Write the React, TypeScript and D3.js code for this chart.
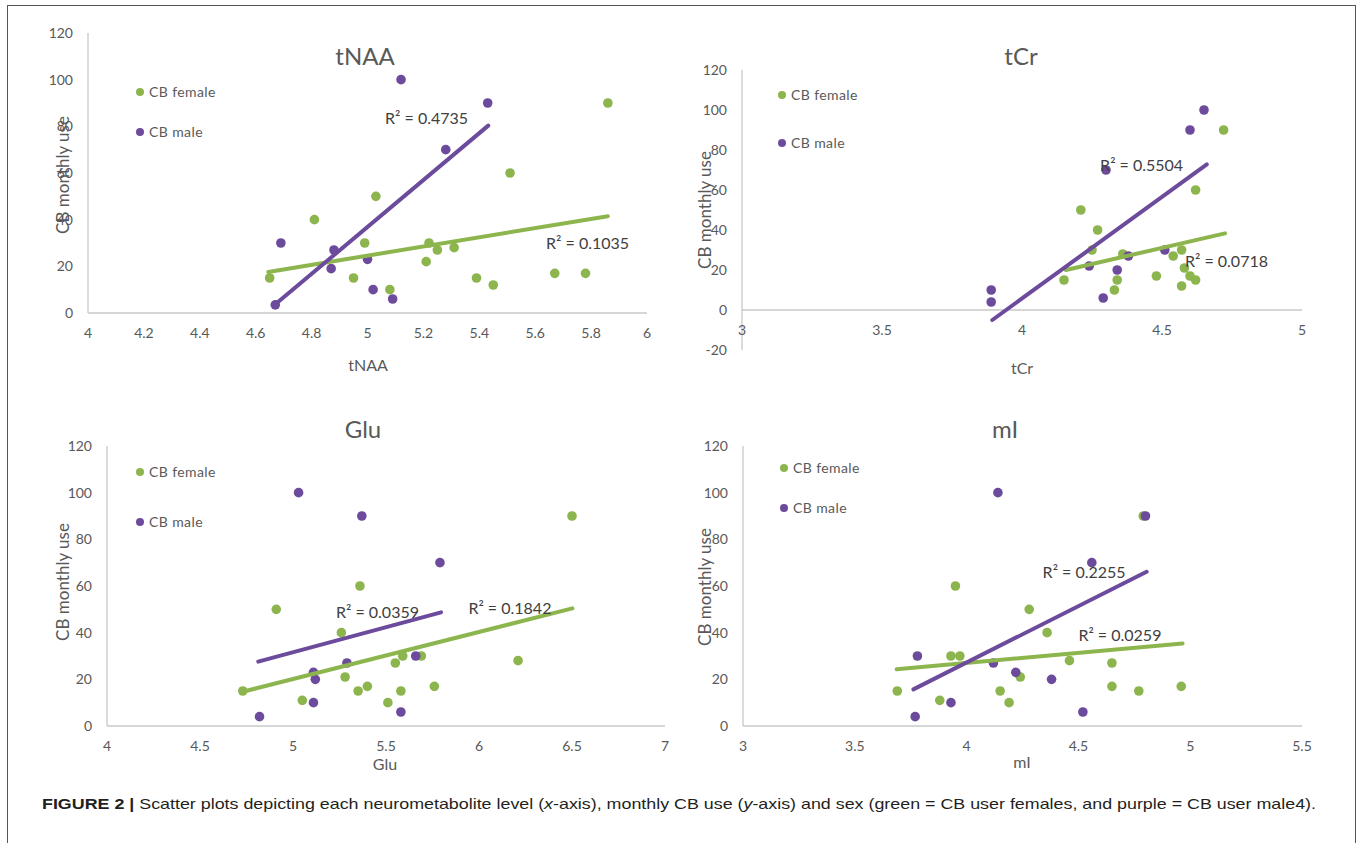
import React from 'react'
import * as d3 from 'd3'

// values: [metabolite level, CB monthly use]
const tnaaFemale = [[4.65, 15], [4.81, 40], [4.95, 15], [4.99, 30], [5.03, 50], [5.08, 10], [5.21, 22], [5.22, 30], [5.25, 27], [5.31, 28], [5.39, 15], [5.45, 12], [5.51, 60], [5.67, 17], [5.78, 17], [5.86, 90]]
const tnaaMale = [[4.67, 3.5], [4.69, 30], [4.87, 19], [4.88, 27], [5.0, 23], [5.02, 10], [5.09, 6], [5.12, 100], [5.28, 70], [5.43, 90]]
const tnaaFemaleFit = [[4.645, 17.6], [5.86, 41.5]]
const tnaaMaleFit = [[4.667, 3.4], [5.432, 80.3]]

const tcrFemale = [[4.15, 15], [4.21, 50], [4.27, 40], [4.25, 30], [4.36, 28], [4.34, 15], [4.33, 10], [4.48, 17], [4.54, 27], [4.57, 30], [4.58, 21], [4.57, 12], [4.6, 17], [4.62, 15], [4.62, 60], [4.72, 90]]
const tcrMale = [[3.89, 10], [3.89, 4], [4.3, 70], [4.24, 22], [4.34, 20], [4.29, 6], [4.38, 27], [4.51, 30], [4.6, 90], [4.65, 100]]
const tcrFemaleFit = [[4.157, 20], [4.725, 38.3]]
const tcrMaleFit = [[3.894, -5], [4.66, 72.8]]

const gluFemale = [[4.73, 15], [4.91, 50], [5.05, 11], [5.26, 40], [5.28, 21], [5.35, 15], [5.4, 17], [5.36, 60], [5.51, 10], [5.55, 27], [5.58, 15], [5.59, 30], [5.69, 30], [5.76, 17], [6.21, 28], [6.5, 90]]
const gluMale = [[5.03, 100], [5.37, 90], [5.11, 23], [5.12, 20], [5.11, 10], [5.29, 27], [4.82, 4], [5.79, 70], [5.66, 30], [5.58, 6]]
const gluFemaleFit = [[4.73, 14.7], [6.502, 50.4]]
const gluMaleFit = [[4.813, 27.6], [5.796, 48.7]]

const miFemale = [[3.69, 15], [3.88, 11], [3.93, 30], [3.97, 30], [3.95, 60], [4.15, 15], [4.19, 10], [4.24, 21], [4.28, 50], [4.36, 40], [4.46, 28], [4.65, 27], [4.65, 17], [4.77, 15], [4.79, 90], [4.96, 17]]
const miMale = [[3.78, 30], [3.77, 4], [3.93, 10], [4.12, 27], [4.14, 100], [4.22, 23], [4.38, 20], [4.52, 6], [4.56, 70], [4.8, 90]]
const miFemaleFit = [[3.687, 24.3], [4.966, 35.4]]
const miMaleFit = [[3.762, 15.7], [4.805, 66.1]]

const titles = ['tNAA', 'tCr', 'Glu', 'mI']
const xTicksTnaa = [4, 4.2, 4.4, 4.6, 4.8, 5, 5.2, 5.4, 5.6, 5.8, 6]
const xTicksTcr = [3, 3.5, 4, 4.5, 5]
const xTicksGlu = [4, 4.5, 5, 5.5, 6, 6.5, 7]
const xTicksMi = [3, 3.5, 4, 4.5, 5, 5.5]
const yTicks = [0, 20, 40, 60, 80, 100, 120]
const yTicksTcr = [-20, 0, 20, 40, 60, 80, 100, 120]
const r2Female = ['0.1035', '0.0718', '0.1842', '0.0259']
const r2Male = ['0.4735', '0.5504', '0.0359', '0.2255']
// label anchors in data units (start x, middle y)
const r2FemalePos = [[5.639, 29.9], [4.582, 24.2], [5.943, 50.4], [4.5, 39]]
const r2MalePos = [[5.063, 83.3], [4.279, 72.5], [5.231, 48.6], [4.34, 65.7]]

const GREEN = '#8db54e'
const PURPLE = '#6d4b9c'
const TXT = '#595959'
const FONT = 'Lato, "Open Sans", sans-serif'

const panels = [
  { title: titles[0], xDom: [4, 6], xRng: [88, 647], yDom: [0, 120], yRng: [313, 33], xTicks: xTicksTnaa, yTicks, female: tnaaFemale, male: tnaaMale, fFit: tnaaFemaleFit, mFit: tnaaMaleFit, titlePos: [365, 57], xLabPos: [368, 365], yLabPos: [63, 175], legend: [140, 92, 132] },
  { title: titles[1], xDom: [3, 5], xRng: [742, 1302], yDom: [-20, 120], yRng: [350, 70], xTicks: xTicksTcr, yTicks: yTicksTcr, female: tcrFemale, male: tcrMale, fFit: tcrFemaleFit, mFit: tcrMaleFit, titlePos: [1021, 57], xLabPos: [1022, 368], yLabPos: [705, 210], legend: [782, 95, 143] },
  { title: titles[2], xDom: [4, 7], xRng: [107, 665], yDom: [0, 120], yRng: [726, 446], xTicks: xTicksGlu, yTicks, female: gluFemale, male: gluMale, fFit: gluFemaleFit, mFit: gluMaleFit, titlePos: [363, 430], xLabPos: [385, 764], yLabPos: [63, 582], legend: [140, 472, 522] },
  { title: titles[3], xDom: [3, 5.5], xRng: [743, 1302], yDom: [0, 120], yRng: [726, 446], xTicks: xTicksMi, yTicks, female: miFemale, male: miMale, fFit: miFemaleFit, mFit: miMaleFit, titlePos: [1005, 430], xLabPos: [1022, 762], yLabPos: [705, 587], legend: [784, 468, 508] },
]

const fmt = (v: number) => String(+v.toFixed(2))

function Panel({ p, i }: { p: any; i: number }) {
  const x = d3.scaleLinear().domain(p.xDom).range(p.xRng)
  const y = d3.scaleLinear().domain(p.yDom).range(p.yRng)
  const line = d3.line<number[]>().x((d) => x(d[0])).y((d) => y(d[1]))
  const x0 = x(p.xDom[0])
  const y0 = y(0)
  return (
    <g fontFamily={FONT}>
      {/* axes */}
      <line x1={x0} x2={x0} y1={y(p.yDom[1])} y2={y(p.yDom[0])} stroke="#c8c8c8" strokeWidth={1.3} />
      <line x1={x0} x2={x(p.xDom[1])} y1={y0} y2={y0} stroke="#c8c8c8" strokeWidth={1.3} />
      {p.yTicks.map((t: number) => (
        <text key={'y' + t} x={x0 - 15} y={y(t)} dy="0.35em" textAnchor="end" fontSize={14} fill={TXT}>{t}</text>
      ))}
      {p.xTicks.map((t: number) => (
        <text key={'x' + t} x={x(t)} y={y0 + 20} dy="0.35em" textAnchor="middle" fontSize={14} fill={TXT}>{fmt(t)}</text>
      ))}
      <text x={p.titlePos[0]} y={p.titlePos[1]} dy="0.35em" textAnchor="middle" fontSize={24} fill={TXT}>{p.title}</text>
      <text x={p.xLabPos[0]} y={p.xLabPos[1]} dy="0.35em" textAnchor="middle" fontSize={16} fill={TXT}>{p.title}</text>
      <text transform={`translate(${p.yLabPos[0]},${p.yLabPos[1]}) rotate(-90)`} dy="0.35em" textAnchor="middle" fontSize={17} fill={TXT}>CB monthly use</text>

      {/* legend */}
      <circle cx={p.legend[0]} cy={p.legend[1]} r={4} fill={GREEN} />
      <text x={p.legend[0] + 9} y={p.legend[1]} dy="0.35em" fontSize={14} fill={TXT} letterSpacing={0.4}>CB female</text>
      <circle cx={p.legend[0]} cy={p.legend[2]} r={4} fill={PURPLE} />
      <text x={p.legend[0] + 9} y={p.legend[2]} dy="0.35em" fontSize={14} fill={TXT} letterSpacing={0.4}>CB male</text>

      {/* points */}
      {p.female.map((d: number[], k: number) => (
        <circle key={'f' + k} cx={x(d[0])} cy={y(d[1])} r={4.8} fill={GREEN} />
      ))}
      {p.male.map((d: number[], k: number) => (
        <circle key={'m' + k} cx={x(d[0])} cy={y(d[1])} r={4.8} fill={PURPLE} />
      ))}

      {/* trend lines */}
      <path d={line(p.fFit) || ''} stroke={GREEN} strokeWidth={4} fill="none" strokeLinecap="round" />
      <path d={line(p.mFit) || ''} stroke={PURPLE} strokeWidth={4} fill="none" strokeLinecap="round" />

      <text x={x(r2MalePos[i][0])} y={y(r2MalePos[i][1])} dy="0.35em" fontSize={16} fill="#404040">R² = {r2Male[i]}</text>
      <text x={x(r2FemalePos[i][0])} y={y(r2FemalePos[i][1])} dy="0.35em" fontSize={16} fill="#404040">R² = {r2Female[i]}</text>
    </g>
  )
}

export default function App() {
  return (
    <div style={{ position: 'absolute', left: 0, top: 0 }}>
      <svg width={1357} height={843} style={{ display: 'block', background: '#fff' }}>
        <rect x={7.5} y={5.5} width={1348} height={840} fill="none" stroke="#555" strokeWidth={1} />
        {panels.map((p, i) => <Panel key={i} p={p} i={i} />)}
        <text x={42} y={809} fontSize={15} fill="#231f20" fontFamily='"Liberation Sans Narrow", "Arial Narrow", "Liberation Sans", sans-serif' textLength={1274} lengthAdjust="spacingAndGlyphs">
          <tspan fontWeight="bold">FIGURE 2 | </tspan>
          <tspan>Scatter plots depicting each neurometabolite level (</tspan>
          <tspan fontStyle="italic">x</tspan>
          <tspan>-axis), monthly CB use (</tspan>
          <tspan fontStyle="italic">y</tspan>
          <tspan>-axis) and sex (green = CB user females, and purple = CB user male4).</tspan>
        </text>
      </svg>
    </div>
  )
}
